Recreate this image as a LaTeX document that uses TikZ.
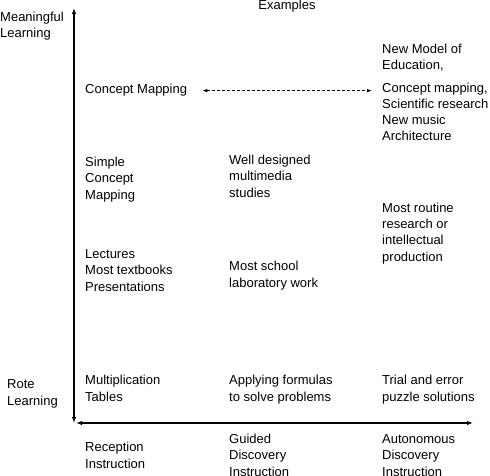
\documentclass[tikz,border=0pt]{standalone}
\usepackage{fontspec}
\setmainfont{Liberation Sans}
\usetikzlibrary{arrows.meta, positioning}

\begin{document}
\begin{tikzpicture}[
        x = 1pt, y = -1pt,
        >= {Latex[length = 6pt, width = 4.5pt]},
        every node/.style = {font = \fontsize{13}{16.3}\selectfont},
        lbl/.style = {anchor = base west, align = left, inner sep = 0pt},
        axis/.style = {line width = 1.3pt, <->},
        dasharr/.style = {densely dashed, line width = 0.8pt, <->,
                          >= {Latex[length = 5pt, width = 3.5pt]}}
    ]

      \useasboundingbox (0,0) rectangle (490,476);

      % axes
      \coordinate (o)   at (74,423);
      \coordinate (top) at (74,8);
      \coordinate (rgt) at (473,423);
      \draw[axis] (top) -- (o);
      \draw[axis] ([xshift = 2pt]o) -- (rgt);

      % axis labels (positions are last-line baselines)
      \node[lbl] (ml) at (0,38)    {Meaningful\\Learning};
      \node[lbl] (rl) at (7,405)   {Rote\\Learning};
      \node[anchor = base, inner sep = 0pt] (ex) at (287,10) {Examples};

      % reception column
      \node[lbl] (cm)  at (85,94)  {Concept Mapping};
      \node[lbl] (scm) at (85,199) {Simple\\Concept\\Mapping};
      \node[lbl] (lec) at (85,291) {Lectures\\Most textbooks\\Presentations};
      \node[lbl] (mt)  at (85,401) {Multiplication\\Tables};
      \node[lbl] (ri)  at (85,468) {Reception\\Instruction};

      % guided column
      \node[lbl] (wd)  at (229,197) {Well designed\\multimedia\\studies};
      \node[lbl] (msl) at (229,287) {Most school\\laboratory work};
      \node[lbl] (af)  at (229,401) {Applying formulas\\to solve problems};
      \node[lbl] (gdi) at (229,476) {Guided\\Discovery\\Instruction};

      % autonomous column
      \node[lbl] (nme) at (382,70)  {New Model of\\Education,};
      \node[lbl] (cmr) at (382,141) {Concept mapping,\\Scientific research\\New music\\Architecture};
      \node[lbl] (mrr) at (382,261) {Most routine\\research or\\intellectual\\production};
      \node[lbl] (te)  at (382,401) {Trial and error\\puzzle solutions};
      \node[lbl] (adi) at (382,476) {Autonomous\\Discovery\\Instruction};

      \draw[dasharr, shorten <= 15pt, shorten >= 10pt]
            (cm.east) -- (cm.east -| cmr.west);

\end{tikzpicture}
\end{document}
